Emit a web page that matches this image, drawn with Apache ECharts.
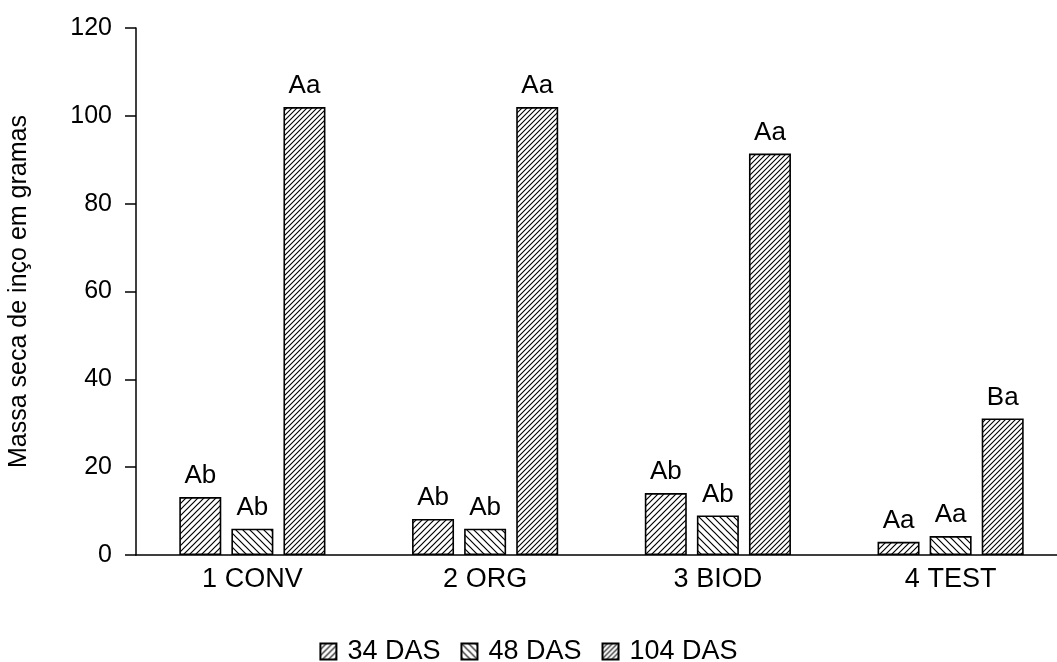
<!DOCTYPE html>
<html>
<head>
<meta charset="utf-8">
<script src="https://cdn.jsdelivr.net/npm/echarts@6/dist/echarts.min.js"></script>
<style>
html,body{margin:0;padding:0;background:#fff;}
#chart{width:1057px;height:662px;}
</style>
</head>
<body>
<div id="chart"></div>
<script>
const categories = ['1 CONV', '2 ORG', '3 BIOD', '4 TEST'];
const seriesNames = ['34 DAS', '48 DAS', '104 DAS'];
const das34 = [13.2, 8.2, 14.1, 3.0];
const das48 = [6.0, 6.0, 9.0, 4.3];
const das104 = [102.0, 102.0, 91.4, 31.1];
const letters34 = ['Ab', 'Ab', 'Ab', 'Aa'];
const letters48 = ['Ab', 'Ab', 'Ab', 'Aa'];
const letters104 = ['Aa', 'Aa', 'Aa', 'Ba'];
const yTicks = [0, 20, 40, 60, 80, 100, 120];

function hatch(size, dir, lw) {
  const c = document.createElement('canvas');
  c.width = size; c.height = size;
  const g = c.getContext('2d');
  g.fillStyle = '#fff';
  g.fillRect(0, 0, size, size);
  g.strokeStyle = '#000';
  g.lineWidth = lw;
  g.beginPath();
  if (dir === '/') {
    g.moveTo(0, size); g.lineTo(size, 0);
    g.moveTo(-1, 1); g.lineTo(1, -1);
    g.moveTo(size - 1, size + 1); g.lineTo(size + 1, size - 1);
  } else {
    g.moveTo(0, 0); g.lineTo(size, size);
    g.moveTo(size - 1, -1); g.lineTo(size + 1, 1);
    g.moveTo(-1, size - 1); g.lineTo(1, size + 1);
  }
  g.stroke();
  return c;
}

const patterns = [hatch(6, '/', 1.2), hatch(7, '\\', 1.2), hatch(5, '/', 1.1)];
const values = [das34, das48, das104];
const letters = [letters34, letters48, letters104];

const FONT = 'Liberation Sans, Arial, sans-serif';
const chart = echarts.init(document.getElementById('chart'));
chart.setOption({
  animation: false,
  backgroundColor: '#fff',
  textStyle: { fontFamily: FONT, color: '#000' },
  grid: { left: 136, top: 28, width: 931, bottom: 107, containLabel: false, outerBoundsMode: 'none' },
  legend: {
    top: 633,
    left: 'center',
    itemWidth: 16,
    itemHeight: 16,
    itemGap: 20,
    icon: 'rect',
    textStyle: { fontSize: 27, color: '#000', fontFamily: FONT, padding: [0, 0, 0, 6] },
    data: seriesNames
  },
  xAxis: {
    type: 'category',
    data: categories,
    axisLine: { lineStyle: { color: '#000', width: 1.5 } },
    axisTick: { show: false },
    axisLabel: { fontSize: 27, color: '#000', margin: 11, fontFamily: FONT }
  },
  yAxis: {
    type: 'value',
    min: 0, max: 120, interval: 20,
    name: 'Massa seca de inço em gramas',
    nameLocation: 'middle',
    nameGap: 104,
    nameTextStyle: { fontSize: 25, color: '#000', fontFamily: FONT },
    axisLine: { show: true, lineStyle: { color: '#000', width: 1.5 } },
    axisTick: { show: true, inside: false, length: 11, lineStyle: { color: '#000', width: 1.5 } },
    splitLine: { show: false },
    axisLabel: {
      fontSize: 25, color: '#000', margin: 24, fontFamily: FONT,
      formatter: v => yTicks.includes(v) ? String(v) : ''
    }
  },
  series: seriesNames.map((name, i) => ({
    name: name,
    type: 'bar',
    barWidth: 42,
    barGap: '24%',
    data: values[i],
    itemStyle: {
      color: { image: patterns[i], repeat: 'repeat' },
      borderColor: '#000',
      borderWidth: 1.6
    },
    label: {
      show: true,
      position: 'top',
      distance: 8,
      fontSize: 26,
      color: '#000',
      fontFamily: FONT,
      formatter: p => letters[i][p.dataIndex]
    }
  }))
});
</script>
</body>
</html>
